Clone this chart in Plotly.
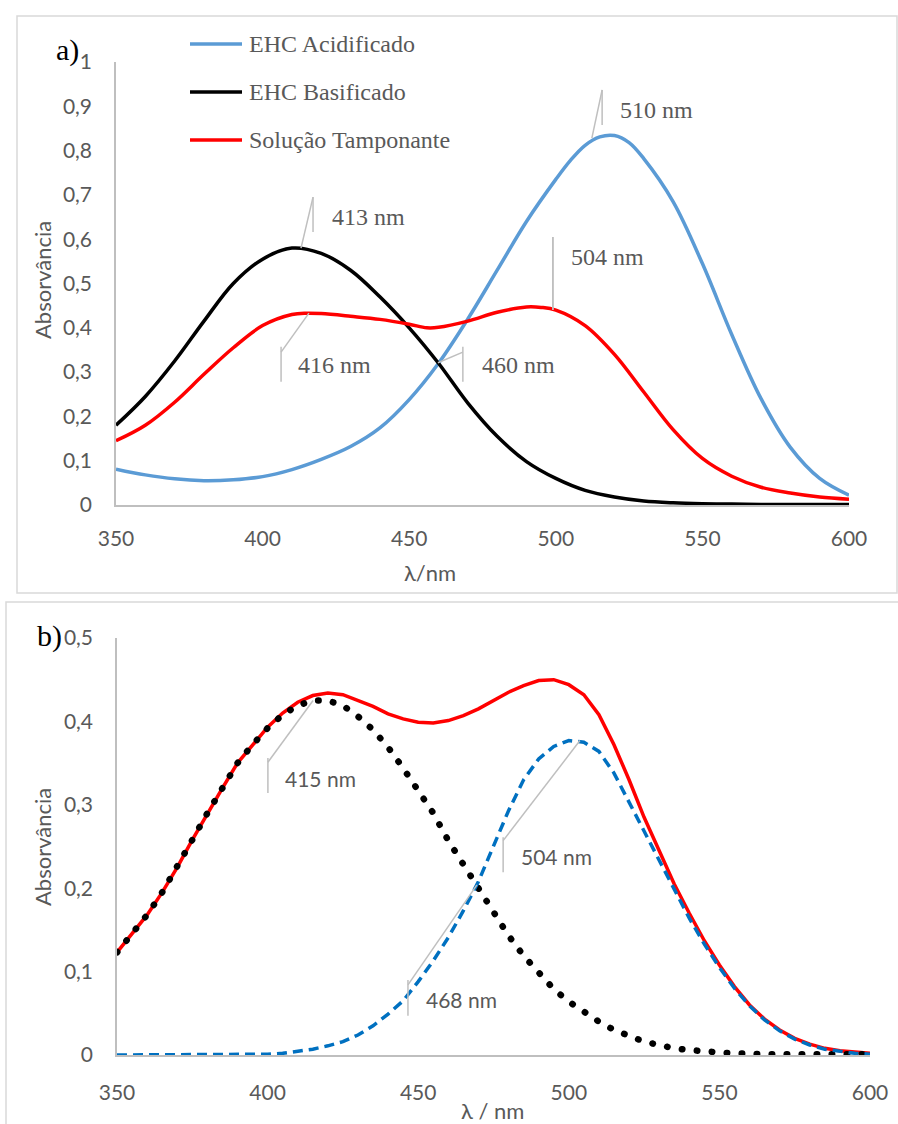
import plotly.graph_objects as go

W, H = 898, 1124

# ---------------- Panel a data ----------------
wl_acid = [350, 360, 370, 380, 390, 400, 410, 420, 430, 440, 450, 460, 470, 480, 490,
           500, 505, 510, 515, 520, 525, 530, 540, 550, 560, 570, 580, 590, 600]
abs_acid = [0.081, 0.068, 0.059, 0.055, 0.057, 0.064, 0.080, 0.103, 0.132, 0.174, 0.238,
            0.320, 0.420, 0.530, 0.640, 0.735, 0.778, 0.812, 0.831, 0.834, 0.818, 0.782,
            0.685, 0.545, 0.385, 0.240, 0.130, 0.060, 0.022]

wl_base = [350, 360, 370, 380, 390, 400, 410, 420, 430, 440, 450, 460, 470, 480, 490,
           500, 510, 520, 530, 540, 550, 560, 570, 580, 590, 600]
abs_base = [0.180, 0.245, 0.325, 0.415, 0.500, 0.555, 0.580, 0.568, 0.530, 0.470, 0.400,
            0.320, 0.230, 0.155, 0.098, 0.060, 0.033, 0.018, 0.009, 0.005, 0.003, 0.002,
            0.001, 0.001, 0.001, 0.001]

wl_tamp = [350, 360, 370, 380, 390, 400, 410, 415, 420, 430, 440, 450, 456, 460, 470, 480,
           490, 495, 500, 510, 520, 530, 540, 550, 560, 570, 580, 590, 600]
abs_tamp = [0.145, 0.180, 0.232, 0.295, 0.355, 0.405, 0.430, 0.433, 0.432, 0.426, 0.419,
            0.408, 0.400, 0.401, 0.415, 0.435, 0.447, 0.446, 0.440, 0.405, 0.340, 0.255,
            0.170, 0.105, 0.065, 0.040, 0.027, 0.018, 0.013]

series_a_names = ["EHC Acidificado", "EHC Basificado", "Solução Tamponante"]
series_a_colors = ["#5B9BD5", "#000000", "#FF0000"]

# ---------------- Panel b data ----------------
wl_b = [350, 355, 360, 365, 370, 375, 380, 385, 390, 395, 400, 405, 410, 415, 420, 425,
        430, 435, 440, 445, 450, 455, 460, 465, 470, 475, 480, 485, 490, 495, 500, 505,
        510, 515, 520, 525, 530, 535, 540, 545, 550, 555, 560, 565, 570, 575, 580, 585,
        590, 595, 600]
abs_sum_b = [0.123, 0.145, 0.168, 0.195, 0.225, 0.258, 0.290, 0.320, 0.350, 0.372, 0.393,
             0.410, 0.423, 0.431, 0.434, 0.432, 0.425, 0.418, 0.409, 0.403, 0.399, 0.398,
             0.401, 0.407, 0.415, 0.425, 0.435, 0.443, 0.449, 0.450, 0.444, 0.432, 0.408,
             0.372, 0.330, 0.285, 0.245, 0.205, 0.170, 0.137, 0.108, 0.082, 0.060, 0.043,
             0.030, 0.020, 0.013, 0.008, 0.005, 0.003, 0.002]
abs_base_b = [0.123, 0.145, 0.168, 0.195, 0.225, 0.258, 0.290, 0.320, 0.350, 0.372, 0.392,
              0.408, 0.419, 0.425, 0.425, 0.419, 0.406, 0.390, 0.369, 0.344, 0.318, 0.290,
              0.257, 0.228, 0.198, 0.169, 0.143, 0.119, 0.098, 0.079, 0.064, 0.051, 0.040,
              0.030, 0.022, 0.016, 0.012, 0.008, 0.006, 0.004, 0.003, 0.002, 0.001, 0.001,
              0.001, 0.001, 0.001, 0.001, 0.001, 0.001, 0.001]
abs_acid_b = [0.000, 0.000, 0.000, 0.000, 0.000, 0.000, 0.000, 0.000, 0.000, 0.000, 0.001,
              0.002, 0.004, 0.007, 0.011, 0.016, 0.024, 0.035, 0.049, 0.065, 0.088, 0.113,
              0.141, 0.173, 0.208, 0.250, 0.293, 0.330, 0.355, 0.370, 0.377, 0.375, 0.364,
              0.338, 0.303, 0.268, 0.232, 0.197, 0.164, 0.133, 0.105, 0.080, 0.059, 0.042,
              0.029, 0.019, 0.012, 0.007, 0.004, 0.002, 0.001]

x_ticks = [350, 400, 450, 500, 550, 600]

# callouts: label, curve point, elbow point, vertical segment (y0, y1), text anchor
callouts_a = [
    ("510 nm", (512.3, 0.828), (515.8, 0.937), (0.937, 0.858), (521.2, 0.892)),
    ("413 nm", (413.1, 0.580), (417.2, 0.695), (0.695, 0.616), (423.0, 0.650)),
    ("416 nm", (415.8, 0.433), (406.3, 0.345), (0.357, 0.278), (411.4, 0.316)),
    ("460 nm", (459.8, 0.321), (468.3, 0.345), (0.357, 0.278), (474.1, 0.316)),
    ("504 nm", (499.0, 0.440), (499.0, 0.605), (0.605, 0.440), (504.5, 0.560)),
]
callouts_b = [
    ("415 nm", (415.1, 0.425), (400.1, 0.351), (0.356, 0.314), (405.1, 0.332)),
    ("504 nm", (503.7, 0.377), (478.2, 0.257), (0.261, 0.219), (483.5, 0.238)),
    ("468 nm", (469.5, 0.204), (446.6, 0.084), (0.090, 0.047), (451.9, 0.067)),
]

SANS = "Lato"
SERIF = "Liberation Serif"
GREY_TXT = "#595959"
LEADER = "#BFBFBF"


def px(xp):
    return xp / W


def py(yp):
    return 1 - yp / H


fig = go.Figure()

for xs, ys, name, col in zip([wl_acid, wl_base, wl_tamp], [abs_acid, abs_base, abs_tamp],
                             series_a_names, series_a_colors):
    fig.add_trace(go.Scatter(x=xs, y=ys, mode="lines", name=name, xaxis="x", yaxis="y",
                             line=dict(color=col, width=3.5, shape="spline", smoothing=1.0),
                             showlegend=False, hoverinfo="skip"))

fig.add_trace(go.Scatter(x=wl_b, y=abs_sum_b, mode="lines", name="Soma", xaxis="x2", yaxis="y2",
                         line=dict(color="#FF0000", width=3.5), showlegend=False))
fig.add_trace(go.Scatter(x=wl_b, y=abs_base_b, mode="lines", name="Básica", xaxis="x2", yaxis="y2",
                         uid="dotb",
                         line=dict(color="#000000", width=6.5, dash="0.5px,14.5px"), showlegend=False))
fig.add_trace(go.Scatter(x=wl_b, y=abs_acid_b, mode="lines", name="Ácida", xaxis="x2", yaxis="y2",
                         line=dict(color="#0070C0", width=3.5, dash="10px,6px"), showlegend=False))

shapes = []
annotations = []

# frames
shapes.append(dict(type="rect", xref="paper", yref="paper", x0=px(17), x1=px(897), y0=py(593), y1=py(16),
                   line=dict(color="#D9D9D9", width=1.5)))
shapes.append(dict(type="rect", xref="paper", yref="paper", x0=px(6), x1=1.02, y0=-0.02, y1=py(602),
                   line=dict(color="#D9D9D9", width=1.5)))

# callouts
for callouts, xr, yr, fnt in [(callouts_a, "x", "y", dict(family=SERIF, size=24, color=GREY_TXT)),
                              (callouts_b, "x2", "y2", dict(family=SANS, size=21, color=GREY_TXT))]:
    for label, p, c, vseg, t in callouts:
        shapes.append(dict(type="line", xref=xr, yref=yr, x0=p[0], y0=p[1], x1=c[0], y1=c[1],
                           line=dict(color=LEADER, width=1.5)))
        shapes.append(dict(type="line", xref=xr, yref=yr, x0=c[0], y0=vseg[0], x1=c[0], y1=vseg[1],
                           line=dict(color=LEADER, width=1.5)))
        annotations.append(dict(text=label, xref=xr, yref=yr, x=t[0], y=t[1], xanchor="left",
                                yanchor="middle", showarrow=False, font=fnt))

# legend (panel a)
for i, (name, col) in enumerate(zip(series_a_names, series_a_colors)):
    yy = 44 + 48 * i
    shapes.append(dict(type="line", xref="paper", yref="paper", x0=px(190), x1=px(242),
                       y0=py(yy), y1=py(yy), line=dict(color=col, width=3.5)))
    annotations.append(dict(text=name, xref="paper", yref="paper", x=px(247), y=py(yy),
                            xanchor="left", yanchor="middle", showarrow=False,
                            font=dict(family=SERIF, size=24, color=GREY_TXT)))

# panel labels
annotations.append(dict(text="a)", xref="paper", yref="paper", x=px(67), y=py(50), showarrow=False,
                        xanchor="center", yanchor="middle",
                        font=dict(family=SERIF, size=30, color="#000000")))
annotations.append(dict(text="b)", xref="paper", yref="paper", x=px(49), y=py(636), showarrow=False,
                        xanchor="center", yanchor="middle",
                        font=dict(family=SERIF, size=30, color="#000000")))

# axis titles
for txt, x, y, ang in [("Absorvância", 42, 280, -90), ("Absorvância", 42, 847, -90),
                       ("λ/nm", 430, 572, 0), ("λ / nm", 492, 1110, 0)]:
    annotations.append(dict(text=txt, xref="paper", yref="paper", x=px(x), y=py(y), showarrow=False,
                            xanchor="center", yanchor="middle", textangle=ang,
                            font=dict(family=SANS, size=22, color=GREY_TXT)))

axis_common = dict(showgrid=False, zeroline=False, showline=True, linecolor="#BFBFBF", linewidth=1.5,
                   ticks="", automargin=False, tickfont=dict(family=SANS, size=21, color=GREY_TXT))

fig.update_layout(
    width=W, height=H, autosize=False,
    margin=dict(l=0, r=0, t=0, b=0, pad=0, autoexpand=False),
    paper_bgcolor="white", plot_bgcolor="rgba(0,0,0,0)",
    separators=",.",
    showlegend=False,
    xaxis=dict(domain=[px(116), px(849)], range=[350, 600], anchor="y", tickvals=x_ticks,
               ticklabelstandoff=14, **axis_common),
    yaxis=dict(domain=[py(505), py(62)], range=[0, 1], anchor="x", dtick=0.1, tick0=0,
               ticklabelstandoff=18, **axis_common),
    xaxis2=dict(domain=[px(117), px(870)], range=[350, 600], anchor="y2", tickvals=x_ticks,
                ticklabelstandoff=18, **axis_common),
    yaxis2=dict(domain=[py(1055), py(638)], range=[0, 0.5], anchor="x2", dtick=0.1, tick0=0,
                ticklabelstandoff=18, **axis_common),
    shapes=shapes,
    annotations=annotations,
)

post = """
var s = document.createElement('style');
s.textContent = 'body{margin:0;} .tracedotb path.js-line, path.js-line[style*="14.5px"] {stroke-linecap: round !important;}';
document.head.appendChild(s);
document.querySelectorAll('path.js-line').forEach(function(p){
  if ((p.style.strokeDasharray || '').indexOf('14.5') >= 0) { p.style.strokeLinecap = 'round'; }
});
"""

fig.write_html("out.html", post_script=post)
